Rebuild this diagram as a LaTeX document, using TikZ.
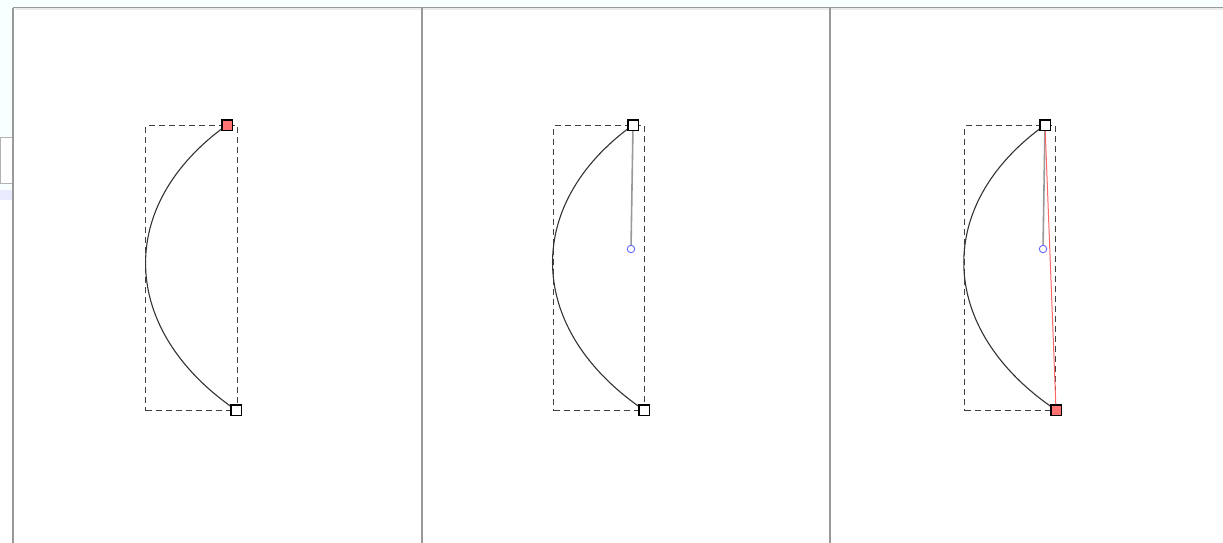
\documentclass[tikz,border=0pt]{standalone}
\begin{document}
\begin{tikzpicture}[x=1pt,y=-1pt,
  handle/.style={draw=black,line width=1.5pt,fill=white,minimum size=10.5pt,inner sep=0pt,outer sep=0pt},
  redhandle/.style={handle,fill=red!55!white},
  ctrl/.style={circle,draw=blue!60!white,line width=0.9pt,fill=white,minimum size=7.5pt,inner sep=0pt},
  bbox/.style={draw=black!75,dashed,dash pattern=on 6pt off 4pt,line width=1.1pt},
  curve/.style={draw=black!80,line width=1.1pt},
  lever/.style={draw=black!40,line width=1.6pt},
  redline/.style={draw=red!60!white,line width=1pt},
  sep/.style={draw=black!40,line width=2pt}]
\useasboundingbox (0,0) rectangle (1223,543);
\fill[white] (0,0) rectangle (1223,543);
% chrome
\fill[blue!5!cyan!3!white] (0,0) rectangle (1223,7);
\fill[blue!5!cyan!3!white] (0,0) rectangle (13,195);
\fill[blue!8!white] (0,190) rectangle (13,200);
\draw[black!40,line width=1.2pt] (13,7.5) -- (1223,7.5);
\draw[black!8,line width=2pt] (15,9.5) -- (1223,9.5);
\node[draw=black!30,fill=white,minimum width=12pt,minimum height=46pt,inner sep=0pt,anchor=north west] (tab) at (0,137) {};
\draw[sep] (13,8) -- (13,543);
\draw[sep] (422,8) -- (422,543);
\draw[sep,line width=2.6pt] (830,8) -- (830,543);
% panel 1
\node[bbox,minimum width=92pt,minimum height=285pt,anchor=north west,inner sep=0pt] (r1) at (145,125) {};
\node[redhandle] (a1) at (227,125) {};
\node[handle] (b1) at (236,410) {};
\draw[curve] (a1.center) .. controls (115,205) and (119,330) .. (b1.center);
\node[redhandle] at (227,125) {};
\node[handle] at (236,410) {};
% panel 2
\node[bbox,minimum width=91pt,minimum height=285pt,anchor=north west,inner sep=0pt] (r2) at (553,125) {};
\node[handle] (a2) at (633,125) {};
\node[handle] (b2) at (644,410) {};
\node[ctrl] (c2) at (631,249) {};
\draw[curve] (a2.center) .. controls (522,205) and (526,330) .. (b2.center);
\draw[lever] (a2.center) -- (c2);
\node[handle] at (633,125) {};
\node[handle] at (644,410) {};
% panel 3
\node[bbox,minimum width=91pt,minimum height=285pt,anchor=north west,inner sep=0pt] (r3) at (964,125) {};
\node[handle] (a3) at (1045,125) {};
\node[redhandle] (b3) at (1056,410) {};
\node[ctrl] (c3) at (1043,249) {};
\draw[curve] (a3.center) .. controls (933,205) and (937,330) .. (b3.center);
\draw[lever] (a3.center) -- (c3);
\draw[redline] (a3.center) -- (b3.center);
\node[handle] at (1045,125) {};
\node[redhandle] at (1056,410) {};
\end{tikzpicture}
\end{document}
